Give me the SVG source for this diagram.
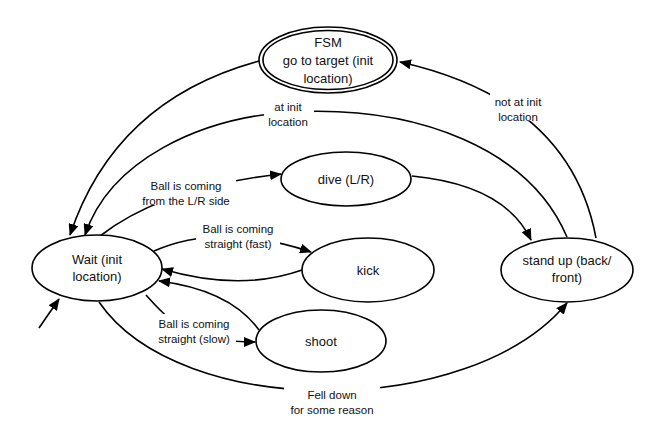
<svg xmlns="http://www.w3.org/2000/svg" width="660" height="438" viewBox="0 0 660 438">
<style>
.n{fill:#fff;stroke:#000;stroke-width:1.6}
.e{fill:none;stroke:#000;stroke-width:1.6;marker-end:url(#a)}
text{font-family:"Liberation Sans",Arial,sans-serif;font-size:13px;text-anchor:middle;fill:#111}
.l{font-size:11.5px}
.bg{fill:#fff}
</style>
<defs><marker id="a" markerUnits="userSpaceOnUse" markerWidth="12" markerHeight="10" refX="11" refY="5" orient="auto"><path d="M0,0 L12,5 L0,10 Z" fill="#000"/></marker></defs>
<rect width="660" height="438" fill="#fff"/>
<g id="connectors">
<path class="e" d="M259,61 Q115,100 70,235"/>
<path class="e" d="M567,237 C530,150 420,105 290,112 C200,118 110,160 85,235"/>
<path class="e" d="M596,238 Q570,100 400,62"/>
<path class="e" d="M100,236 C140,205 200,183 281,174"/>
<path class="e" d="M412,176 Q505,185 531,240"/>
<path class="e" d="M154,251 Q220,222 311,252"/>
<path class="e" d="M302,270 Q240,292 162,269"/>
<path class="e" d="M259,330 Q230,290 159,281"/>
<path class="e" d="M146,295 C170,322 190,342 255,342"/>
<path class="e" d="M99,302 C180,420 470,420 567,303"/>
<path class="e" d="M39,328 L59,299"/>
<rect class="bg" x="264" y="98" width="50" height="28"/>
<rect class="bg" x="490" y="92" width="58" height="29"/>
<rect class="bg" x="136" y="176" width="100" height="29"/>
<rect class="bg" x="196" y="219" width="84" height="29"/>
<rect class="bg" x="152" y="314" width="84" height="29"/>
<rect class="bg" x="284" y="385" width="96" height="29"/>
<text class="l" x="288" y="111">at init</text>
<text class="l" x="288" y="126">location</text>
<text class="l" x="518" y="106">not at init</text>
<text class="l" x="518" y="121">location</text>
<text class="l" x="186" y="190">Ball is coming</text>
<text class="l" x="186" y="205">from the L/R side</text>
<text class="l" x="238" y="233">Ball is coming</text>
<text class="l" x="238" y="248">straight (fast)</text>
<text class="l" x="194" y="328">Ball is coming</text>
<text class="l" x="194" y="343">straight (slow)</text>
<text class="l" x="332" y="399">Fell down</text>
<text class="l" x="332" y="414">for some reason</text>
</g>
<g id="fsm"><ellipse class="n" cx="328" cy="60" rx="69" ry="33"/><ellipse class="n" cx="328" cy="60" rx="65" ry="29.5"/>
<text x="328" y="47">FSM</text><text x="328" y="65">go to target (init</text><text x="328" y="83">location)</text></g>
<g id="wait"><ellipse class="n" cx="97" cy="268" rx="65" ry="33"/><text x="97" y="264">Wait (init</text><text x="97" y="281">location)</text></g>
<g id="dive"><ellipse class="n" cx="346" cy="179" rx="65" ry="27"/><text x="346" y="184">dive (L/R)</text></g>
<g id="kick"><ellipse class="n" cx="368" cy="270" rx="66" ry="32"/><text x="368" y="275">kick</text></g>
<g id="shoot"><ellipse class="n" cx="321" cy="341" rx="65" ry="31"/><text x="321" y="346">shoot</text></g>
<g id="standup"><ellipse class="n" cx="567" cy="270" rx="66" ry="32"/><text x="567" y="265">stand up (back/</text><text x="567" y="282">front)</text></g>
</svg>
